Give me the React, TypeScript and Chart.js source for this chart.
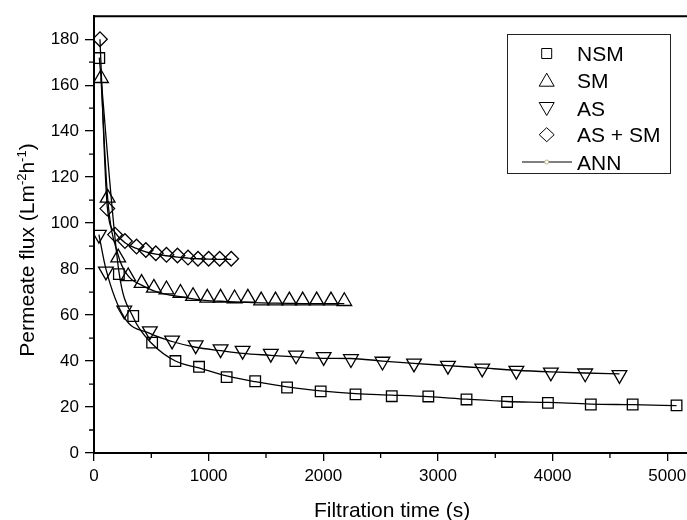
import React, { useEffect, useRef } from 'react';
import { Chart, registerables } from 'chart.js';

Chart.register(...registerables);

// ---------- data ----------
const nsmTime = [46, 217, 342, 507, 710, 916, 1157, 1406, 1684, 1977, 2281, 2597, 2916, 3249, 3603, 3959, 4333, 4698, 5081];
const nsmFlux = [171.8, 77.8, 59.6, 48, 40, 37.5, 33, 31.2, 28.5, 26.8, 25.5, 24.7, 24.6, 23.3, 22.2, 21.8, 21.1, 21.1, 20.7];
const nsmAnn = [172, 79, 59, 47.5, 40, 37, 33.5, 31, 28.8, 27, 25.8, 25.2, 24.5, 23.4, 22.4, 22, 21.3, 21, 20.6];

const smTime = [61, 119, 211, 298, 415, 522, 632, 754, 864, 988, 1104, 1226, 1342, 1458, 1583, 1704, 1820, 1942, 2067, 2183];
const smFlux = [163, 111, 85, 76.8, 73.9, 71.8, 71.1, 69.6, 68.2, 67.5, 67.5, 67.2, 67.5, 66.3, 66.3, 66.3, 66.3, 66.3, 66.3, 66];
const smAnn = [163, 111, 86, 77, 73, 70.5, 69, 68, 67, 66.3, 66, 65.7, 65.5, 65.3, 65.2, 65.1, 65, 65, 65, 65];

const asTime = [43, 104, 264, 487, 681, 887, 1104, 1296, 1542, 1762, 2003, 2241, 2516, 2791, 3087, 3386, 3684, 3985, 4284, 4583];
const asFlux = [95, 79, 62, 53, 49, 46.9, 45.2, 44.5, 43.2, 42.5, 41.8, 40.9, 39.8, 39, 38, 36.8, 35.8, 35.1, 34.7, 34];
const asAnn = [95, 80, 59, 52, 48.5, 46, 44.5, 43.3, 42.5, 41.8, 41.2, 41.1, 40, 39, 38, 37, 36, 35.3, 34.8, 34.4];

const assmTime = [52, 116, 183, 270, 371, 452, 539, 632, 728, 820, 907, 1000, 1096, 1197];
const assmFlux = [180, 106.3, 95, 92.2, 89.8, 88.3, 86.9, 86.2, 85.9, 85, 84.5, 84.5, 84.5, 84.5];
const assmAnn = [180, 107, 96, 91.5, 89, 87.5, 86.5, 85.8, 85.2, 84.8, 84.5, 84.3, 84.2, 84.2];

const legendLabels = ['NSM', 'SM', 'AS', 'AS + SM', 'ANN'];
const xTitle = 'Filtration time (s)';
const yTitleMain = 'Permeate flux (Lm';
const xMajorTicks = [0, 1000, 2000, 3000, 4000, 5000];
const yMajorTicks = [0, 20, 40, 60, 80, 100, 120, 140, 160, 180];
const xMinorTicks = [500, 1500, 2500, 3500, 4500];
const yMinorTicks = [10, 30, 50, 70, 90, 110, 130, 150, 170];

const FONT = "'Liberation Sans', Arial, sans-serif";

function drawSymbol(ctx: CanvasRenderingContext2D, kind: string, cx: number, cy: number) {
  ctx.beginPath();
  if (kind === 'rect') {
    ctx.rect(cx - 5, cy - 5, 10, 10);
  } else if (kind === 'tri') {
    ctx.moveTo(cx, cy - 7.5);
    ctx.lineTo(cx + 7.5, cy + 5.5);
    ctx.lineTo(cx - 7.5, cy + 5.5);
    ctx.closePath();
  } else if (kind === 'triDown') {
    ctx.moveTo(cx, cy + 7.5);
    ctx.lineTo(cx + 7.5, cy - 5.5);
    ctx.lineTo(cx - 7.5, cy - 5.5);
    ctx.closePath();
  } else if (kind === 'diamond') {
    ctx.moveTo(cx, cy - 7);
    ctx.lineTo(cx + 7.5, cy);
    ctx.lineTo(cx, cy + 7);
    ctx.lineTo(cx - 7.5, cy);
    ctx.closePath();
  }
  ctx.stroke();
}

const decorPlugin = {
  id: 'decor',
  afterDraw(chart: any) {
    const { ctx, chartArea: a, scales } = chart;
    const x = scales.x;
    const y = scales.y;
    ctx.save();
    ctx.strokeStyle = '#000';
    // frame top/right
    ctx.lineWidth = 2;
    ctx.beginPath();
    ctx.moveTo(a.left - 1, a.top);
    ctx.lineTo(a.right, a.top);
    ctx.lineTo(a.right, a.bottom);
    ctx.stroke();
    // minor ticks
    ctx.lineWidth = 1.3;
    ctx.beginPath();
    for (const v of yMinorTicks) {
      const py = y.getPixelForValue(v);
      ctx.moveTo(a.left, py);
      ctx.lineTo(a.left - 5, py);
    }
    for (const v of xMinorTicks) {
      const px = x.getPixelForValue(v);
      ctx.moveTo(px, a.bottom);
      ctx.lineTo(px, a.bottom + 5);
    }
    ctx.stroke();

    // axis titles
    ctx.fillStyle = '#000';
    ctx.font = `21px ${FONT}`;
    ctx.textAlign = 'center';
    ctx.textBaseline = 'alphabetic';
    ctx.fillText(xTitle, (a.left + a.right) / 2, 516.5);

    const parts = [
      { t: yTitleMain, sup: false },
      { t: '-2', sup: true },
      { t: 'h', sup: false },
      { t: '-1', sup: true },
      { t: ')', sup: false },
    ];
    const bigFont = `21px ${FONT}`;
    const supFont = `13px ${FONT}`;
    let total = 0;
    for (const p of parts) {
      ctx.font = p.sup ? supFont : bigFont;
      total += ctx.measureText(p.t).width;
    }
    ctx.save();
    ctx.translate(33.5, 250 + total / 2);
    ctx.rotate(-Math.PI / 2);
    ctx.textAlign = 'left';
    let cx = 0;
    for (const p of parts) {
      ctx.font = p.sup ? supFont : bigFont;
      ctx.fillText(p.t, cx, p.sup ? -8 : 0);
      cx += ctx.measureText(p.t).width;
    }
    ctx.restore();

    // legend
    ctx.lineWidth = 1;
    ctx.strokeStyle = '#222';
    ctx.strokeRect(507.5, 34.5, 163, 139);
    const rows = [53.5, 80.7, 108, 134.7, 162];
    const kinds = ['rect', 'tri', 'triDown', 'diamond'];
    const symX = 546.7;
    ctx.strokeStyle = '#000';
    for (let i = 0; i < 4; i++) drawSymbol(ctx, kinds[i], symX, rows[i]);
    ctx.lineWidth = 1.2;
    ctx.beginPath();
    ctx.moveTo(522, rows[4]);
    ctx.lineTo(572, rows[4]);
    ctx.stroke();
    ctx.beginPath();
    ctx.arc(symX, rows[4], 2, 0, Math.PI * 2);
    ctx.fillStyle = '#fff';
    ctx.fill();
    ctx.strokeStyle = '#b4b48c';
    ctx.lineWidth = 1;
    ctx.stroke();
    ctx.fillStyle = '#000';
    ctx.font = `21px ${FONT}`;
    ctx.textAlign = 'left';
    ctx.textBaseline = 'alphabetic';
    legendLabels.forEach((l, i) => ctx.fillText(l, 577, rows[i] + 7.5));
    ctx.restore();
  },
};

export default function App() {
  const ref = useRef<HTMLCanvasElement>(null);
  useEffect(() => {
    const pts = (xs: number[], ys: number[]) => xs.map((v, i) => ({ x: v, y: ys[i] }));
    const markers = (label: string, xs: number[], ys: number[], style: string, radius: number, rotation = 0) => ({
      label,
      data: pts(xs, ys),
      showLine: false,
      pointStyle: style,
      pointRadius: radius,
      pointRotation: rotation,
      pointBorderColor: '#000',
      pointBackgroundColor: 'rgba(0,0,0,0)',
      pointBorderWidth: 1.3,
      borderColor: '#000',
      backgroundColor: 'rgba(0,0,0,0)',
    });
    const ann = (xs: number[], ys: number[]) => ({
      label: 'ANN',
      data: pts(xs, ys),
      showLine: true,
      pointRadius: 0,
      borderColor: '#000',
      borderWidth: 1.3,
      backgroundColor: 'rgba(0,0,0,0)',
      cubicInterpolationMode: 'monotone',
      fill: false,
    });
    const chart = new Chart(ref.current as HTMLCanvasElement, {
      type: 'scatter',
      data: {
        datasets: [
          ann(nsmTime, nsmAnn),
          ann(smTime, smAnn),
          ann(asTime, asAnn),
          ann(assmTime, assmAnn),
          markers('NSM', nsmTime, nsmFlux, 'rect', 7.5),
          markers('SM', smTime, smFlux, 'triangle', 8.5),
          markers('AS', asTime, asFlux, 'triangle', 8.5, 180),
          markers('AS + SM', assmTime, assmFlux, 'rectRot', 7.3),
        ] as any,
      },
      options: {
        responsive: false,
        animation: false,
        devicePixelRatio: 1,
        layout: { padding: { top: 13, right: 8, left: 0, bottom: 0 } },
        plugins: { legend: { display: false }, tooltip: { enabled: false } },
        scales: {
          x: {
            type: 'linear',
            min: 0,
            max: 5200,
            afterFit: (s: any) => { s.height = 67; },
            afterBuildTicks: (s: any) => { s.ticks = xMajorTicks.map((v) => ({ value: v })); },
            ticks: { color: '#000', font: { size: 17, family: FONT }, padding: 5, maxRotation: 0, autoSkip: false, callback: (v: any) => String(v) },
            grid: { drawOnChartArea: false, drawTicks: true, tickLength: 8, color: '#000', lineWidth: 1.3 },
            border: { color: '#000', width: 2 },
          },
          y: {
            type: 'linear',
            min: 0,
            max: 190,
            afterFit: (s: any) => { s.width = 94; },
            afterBuildTicks: (s: any) => { s.ticks = yMajorTicks.map((v) => ({ value: v })); },
            ticks: { color: '#000', font: { size: 17, family: FONT }, padding: 6, autoSkip: false, callback: (v: any) => String(v) },
            grid: { drawOnChartArea: false, drawTicks: true, tickLength: 9, color: '#000', lineWidth: 1.3 },
            border: { color: '#000', width: 2 },
          },
        },
      } as any,
      plugins: [decorPlugin],
    });
    return () => chart.destroy();
  }, []);
  return (
    <div style={{ position: 'fixed', left: 0, top: 0, width: 700, height: 520, background: '#fff' }}>
      <canvas ref={ref} width={700} height={520} />
    </div>
  );
}
